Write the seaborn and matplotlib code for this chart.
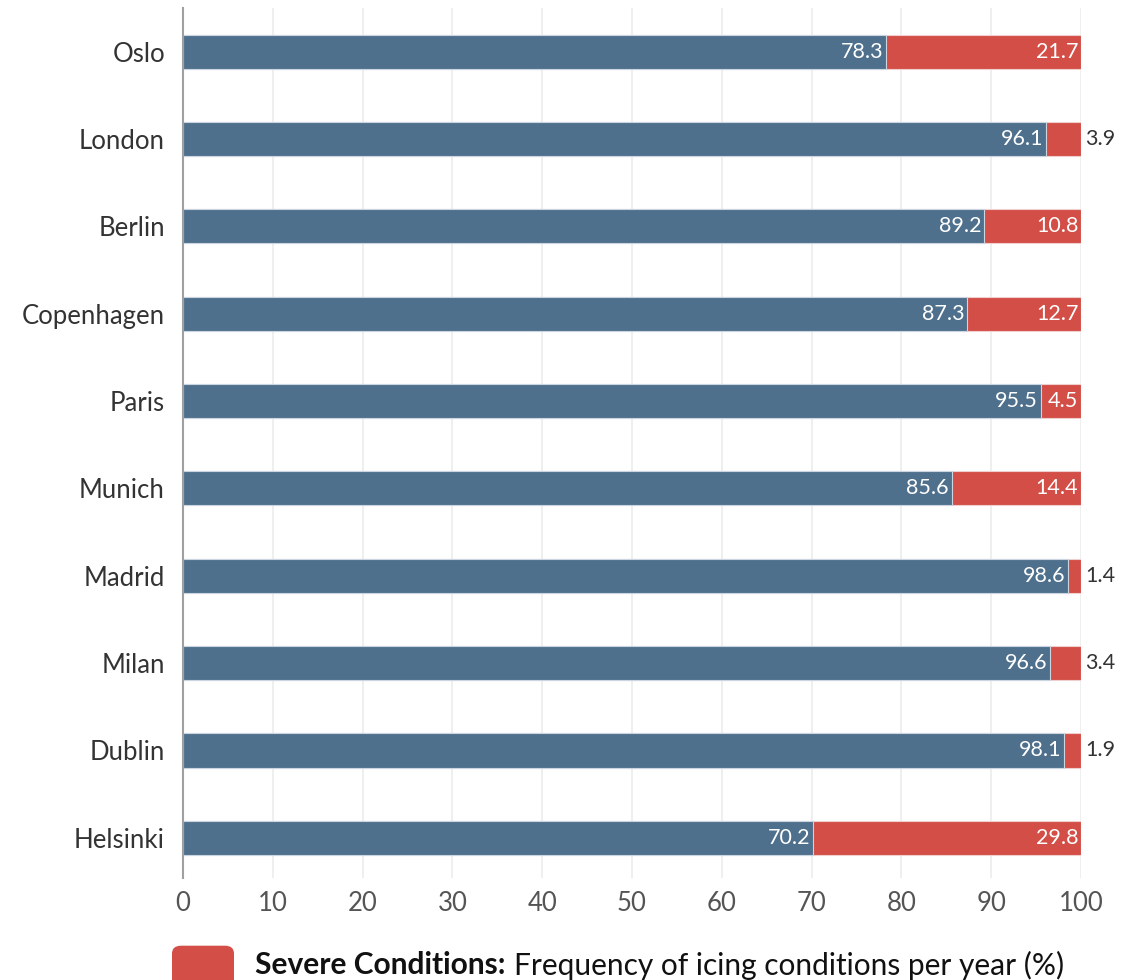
import matplotlib
matplotlib.use("Agg")
import matplotlib.pyplot as plt
from matplotlib.patches import FancyBboxPatch
import seaborn as sns
import pandas as pd

cities = ["Oslo", "London", "Berlin", "Copenhagen", "Paris",
          "Munich", "Madrid", "Milan", "Dublin", "Helsinki"]
normal = [78.3, 96.1, 89.2, 87.3, 95.5, 85.6, 98.6, 96.6, 98.1, 70.2]
severe = [21.7, 3.9, 10.8, 12.7, 4.5, 14.4, 1.4, 3.4, 1.9, 29.8]
ticks = [0, 10, 20, 30, 40, 50, 60, 70, 80, 90, 100]

BLUE = "#4f708c"
RED = "#d24e46"

sns.set_theme(style="white")
plt.rcParams["font.family"] = ["Lato", "DejaVu Sans"]

df = pd.DataFrame({"city": cities, "normal": normal, "severe": severe})
df["total"] = df["normal"] + df["severe"]

fig = plt.figure(figsize=(11.22, 9.8), dpi=100)
ax = fig.add_axes([183 / 1122, 1 - 878 / 980, (1081 - 183) / 1122, 870 / 980])

sns.barplot(data=df, x="total", y="city", orient="h", color=RED,
            saturation=1, width=0.39, edgecolor="#f0d0ce", linewidth=0.8, ax=ax)
sns.barplot(data=df, x="normal", y="city", orient="h", color=BLUE,
            saturation=1, width=0.39, edgecolor="#c9d6e2", linewidth=0.8, ax=ax)

ax.set_xlim(0, 100)
ax.set_ylim(9.46, -0.5)
ax.set_xticks(ticks)
ax.set_xticklabels([str(t) for t in ticks])
ax.set_xlabel("")
ax.set_ylabel("")
ax.xaxis.grid(True, color="#ececec", linewidth=1.2)
ax.set_axisbelow(True)
for side in ["top", "right", "bottom"]:
    ax.spines[side].set_visible(False)
ax.spines["left"].set_color("#a0a0a0")
ax.spines["left"].set_linewidth(1.5)
ax.tick_params(axis="x", length=0, pad=9, labelsize=18.5, labelcolor="#555555")
ax.tick_params(axis="y", length=0, pad=13, labelsize=18.5, labelcolor="#333333")

for i, (n, s) in enumerate(zip(normal, severe)):
    ax.text(n - 0.3, i, f"{n:.1f}", ha="right", va="center",
            color="white", fontsize=15.5)
    total = n + s
    if s >= 4:
        ax.text(total - 0.3, i, f"{s:.1f}", ha="right", va="center",
                color="white", fontsize=15.5)
    else:
        ax.text(total + 0.5, i, f"{s:.1f}", ha="left", va="center",
                color="#333333", fontsize=15.5)

# legend swatch and caption below the axis
fig.patches.append(FancyBboxPatch((172 / 1122, -0.02), 62 / 1122, 0.055,
                                  boxstyle="round,pad=0,rounding_size=0.008",
                                  transform=fig.transFigure, facecolor=RED,
                                  edgecolor="none"))
cap = fig.text(255 / 1122, 15 / 980, "Severe Conditions:", fontsize=21.5,
               fontweight="bold", color="#111111", va="center", ha="left")
fig.canvas.draw()
bb = cap.get_window_extent()
fig.text((bb.x1 + 8) / 1122, 15 / 980,
         "Frequency of icing conditions per year (%)", fontsize=21.5,
         color="#111111", va="center", ha="left")

fig.savefig("out.png", dpi=100)
